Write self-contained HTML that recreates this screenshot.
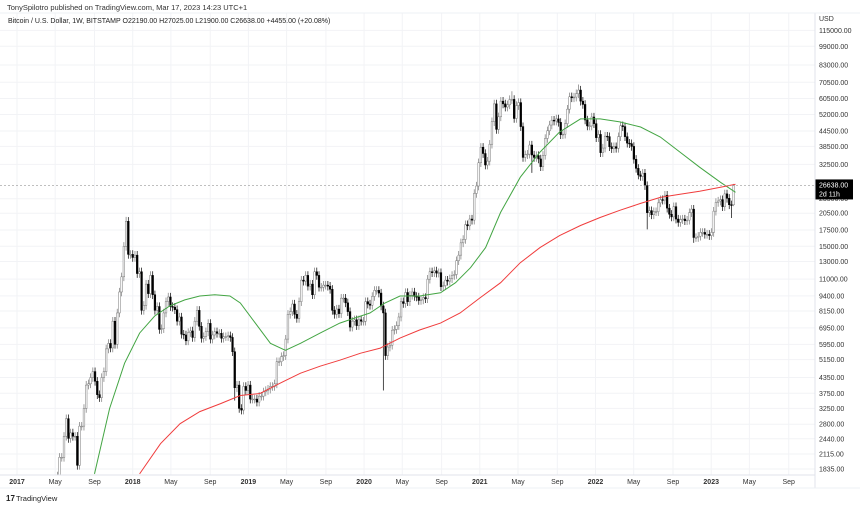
<!DOCTYPE html>
<html><head><meta charset="utf-8"><style>
html,body{margin:0;padding:0;background:#fff;width:860px;height:505px;overflow:hidden}
svg{display:block;font-family:"Liberation Sans",sans-serif}
</style></head><body>
<svg id="chart" width="860" height="505" viewBox="0 0 860 505">
<defs><clipPath id="plotclip"><rect x="0" y="13" width="815" height="462"/></clipPath></defs>
<g id="grid"></g>
<text x="7" y="10" font-size="7.5" fill="#333">TonySpilotro published on TradingView.com, Mar 17, 2023 14:23 UTC+1</text>
<text x="8" y="23" font-size="7" fill="#222">Bitcoin / U.S. Dollar, 1W, BITSTAMP  O22190.00  H27025.00  L21900.00  C26638.00  +4455.00 (+20.08%)</text>
<g id="ylabels"></g>
<g id="xlabels"></g>
<g clip-path="url(#plotclip)">
<g id="candles"></g>
<path id="ma50" fill="none" stroke="#43a543" stroke-width="1"/>
<path id="ma200" fill="none" stroke="#f03c3c" stroke-width="1"/>
</g>
<line id="priceline" x1="0" x2="815" stroke="#999" stroke-width="0.7" stroke-dasharray="2,2"/>
<g id="pricetag"></g>
<line x1="0" y1="475" x2="815" y2="475" stroke="#e0e3eb" stroke-width="1"/>
<line x1="815" y1="13" x2="815" y2="488" stroke="#e0e3eb" stroke-width="1"/>
<line x1="0" y1="13" x2="860" y2="13" stroke="#eef0f4" stroke-width="1"/>
<line x1="0" y1="488" x2="860" y2="488" stroke="#eef0f4" stroke-width="1"/>
<g>
<text x="6" y="501" font-size="8" font-weight="bold" fill="#222">17</text>
<text x="16" y="501" font-size="7.5" fill="#222">TradingView</text>
</g>
</svg>
<script>
const yTicks=[115000,99000,83000,70500,60500,52000,44500,38500,32500,23500,20500,17500,15000,13000,11000,9400,8150,6950,5950,5150,4350,3750,3250,2800,2440,2115,1835];
const xTickYears=[2017,2017.33,2017.67,2018,2018.33,2018.67,2019,2019.33,2019.67,2020,2020.33,2020.67,2021,2021.33,2021.67,2022,2022.33,2022.67,2023,2023.33,2023.67];
const xTickLabels=["2017","May","Sep","2018","May","Sep","2019","May","Sep","2020","May","Sep","2021","May","Sep","2022","May","Sep","2023","May","Sep"];
const startYear=2017.253;
const firstOpen=1100;
const closes=[1180,1180,1250,1350,1550,1720,2050,2050,2500,2950,2450,2580,2500,2500,1900,2750,2750,3250,4050,4100,4350,4600,4200,3700,3600,4350,4600,5700,6000,5750,7400,5950,8000,9750,11250,15000,19000,13900,13900,
13500,13800,11600,11800,8200,8600,10500,9600,11400,9500,8200,8500,6850,6900,8000,8900,9300,8500,8450,8250,7400,7700,6550,6500,6150,6650,6750,6350,7400,8200,7050,6300,6400,6700,7250,6250,6500,6700,6600,6600,6300,6400,6400,6450,6350,5550,3950,4050,3250,3200,4000,3850,4050,
3550,3550,3550,3450,3650,3650,3800,3850,3900,4000,4000,4100,5050,5050,5300,5350,6250,7900,8100,8700,7900,7600,8900,10900,10800,11400,10300,10500,9500,11800,11400,10200,10200,10400,10400,10300,10000,8200,7900,8300,7950,9200,9200,8800,8100,7000,7400,7500,7100,7500,7400,7400,
8900,8700,8600,9350,9900,9900,9650,8550,8000,5350,5800,5900,6800,6850,7100,7700,8900,8750,9700,8900,9450,9750,9350,9300,9000,9050,9250,9150,11000,11800,11700,11900,11650,11700,10250,10350,10900,10800,11050,11400,11500,13100,13800,15500,16000,18400,18200,19400,19200,24700,26500,33000,
38200,36000,32300,33500,39300,48600,57500,45200,50900,59000,57500,55800,57000,59900,60000,50100,56600,58200,46400,34700,35600,35800,39000,35500,34700,35300,34200,31800,35400,41500,44600,47100,49300,48900,49900,48300,43000,43200,47700,54700,61500,60900,61300,63300,65500,59000,57200,49400,46700,46700,50800,47700,
41800,43100,36300,37900,42400,42200,38400,37700,38400,37800,42200,46800,46400,42200,39700,39500,38500,34100,31300,29400,29000,29900,26600,20600,21000,20200,20800,20800,22600,23300,23200,24300,21500,20300,19800,21800,19400,18800,19300,19400,19100,19200,20600,21300,16300,16300,16500,17100,17100,16800,16800,16600,
17100,20900,22700,23000,23300,21800,24600,23600,22200,22190,26638];
const lowOverrides=[[152,3850],[85,3500],[271,17600],[292,15500],[309,19600],[310,21900],[219,30000]];
const highOverrides=[[240,69000],[310,27025],[36,19800],[210,64800]];
const ma50Years=[2017.67,2017.80,2017.93,2018.06,2018.19,2018.32,2018.45,2018.58,2018.71,2018.84,2018.93,2019.06,2019.19,2019.32,2019.45,2019.62,2019.79,2019.92,2020.05,2020.18,2020.31,2020.48,2020.66,2020.79,2020.92,2021.05,2021.18,2021.35,2021.52,2021.69,2021.87,2022.04,2022.21,2022.39,2022.56,2022.73,2022.90,2023.08,2023.21];
const ma50Values=[1753,3248,4980,6615,7775,8540,9045,9390,9490,9390,8790,7270,6010,5625,6010,6615,7270,7625,7995,8790,9390,9390,9675,10640,12260,14815,20650,28790,36490,44120,49900,49900,48520,46250,42060,36490,31650,27440,24960];
const ma200Years=[2018.06,2018.24,2018.41,2018.58,2018.76,2018.93,2019.10,2019.27,2019.45,2019.62,2019.79,2019.97,2020.14,2020.31,2020.48,2020.66,2020.83,2021.00,2021.18,2021.35,2021.52,2021.69,2021.87,2022.04,2022.21,2022.39,2022.56,2022.73,2022.90,2023.08,2023.21];
const ma200Values=[1753,2330,2815,3155,3400,3670,3740,4115,4530,4840,5120,5470,5740,6310,6810,7270,7995,9210,10640,12850,14815,16600,18250,19690,21060,22490,23800,24500,25200,26170,26920];
const lastPrice=26638;

const NS="http://www.w3.org/2000/svg";
function yScale(p){return 30.4+106*Math.log(115000/p);}
function xScale(yr){return 17+(yr-2017)*115.7;}
function mk(tag,attrs,parent){const e=document.createElementNS(NS,tag);for(const k in attrs)e.setAttribute(k,attrs[k]);parent.appendChild(e);return e;}
const grid=document.getElementById('grid'),yl=document.getElementById('ylabels'),xl=document.getElementById('xlabels');
yTicks.forEach(v=>{const y=yScale(v);
 const g=mk('line',{x1:0,x2:815,y1:y,y2:y,stroke:'#f2f3f6','stroke-width':1},grid);
 
 
 const t=mk('text',{x:819,y:y+2.5,'font-size':7,fill:'#333'},yl);t.textContent=v.toFixed(2);
 
 });
const usd=mk('text',{x:819,y:21,'font-size':7,fill:'#333'},yl);usd.textContent='USD';


xTickYears.forEach((yr,i)=>{const x=xScale(yr);
 const g=mk('line',{x1:x,x2:x,y1:13,y2:475,stroke:'#f2f3f6','stroke-width':1},grid);
 
 
 const bold=/^\d{4}$/.test(xTickLabels[i]);
 const t=mk('text',{x:x,y:484,'font-size':7,'text-anchor':'middle',fill:'#333','font-weight':bold?'bold':'normal'},xl);t.textContent=xTickLabels[i];
 
 });
const cg=document.getElementById('candles');
const lowMap={},highMap={};lowOverrides.forEach(([i,v])=>lowMap[i]=v);highOverrides.forEach(([i,v])=>highMap[i]=v);
closes.forEach((c,i)=>{
 const o=i==0?firstOpen:closes[i-1];
 const hi=highMap[i]||Math.max(o,c)*1.04,lo=lowMap[i]||Math.min(o,c)*0.96;
 const x=xScale(startYear+i*7/365.25);
 const up=c>=o;
 const w=mk('line',{x1:x,x2:x,y1:yScale(hi),y2:yScale(lo),stroke:up?'#777':'#000','stroke-width':0.7},cg);
 
 
 const yt=yScale(Math.max(o,c)),yb=yScale(Math.min(o,c));
 const r=mk('rect',{x:x-0.85,y:yt,width:1.7,height:Math.max(0.8,yb-yt),fill:up?'#fff':'#000',stroke:up?'#777':'#000','stroke-width':0.5},cg);
 
 
});
function pathOf(ys,vs){return ys.map((yr,i)=>(i?'L':'M')+xScale(yr).toFixed(1)+','+yScale(vs[i]).toFixed(1)).join('');}
document.getElementById('ma50').setAttribute('d',pathOf(ma50Years,ma50Values));
document.getElementById('ma200').setAttribute('d',pathOf(ma200Years,ma200Values));
const py=yScale(lastPrice);
const pl=document.getElementById('priceline');pl.setAttribute('y1',py);pl.setAttribute('y2',py);
const pt=document.getElementById('pricetag');
mk('rect',{x:815,y:py-6,width:38,height:20,fill:'#000'},pt);
const t1=mk('text',{x:819,y:py+2,'font-size':7,fill:'#fff'},pt);t1.textContent=lastPrice.toFixed(2);
const t2=mk('text',{x:819,y:py+11,'font-size':7,fill:'#fff'},pt);t2.textContent='2d 11h';
</script>
</body></html>
